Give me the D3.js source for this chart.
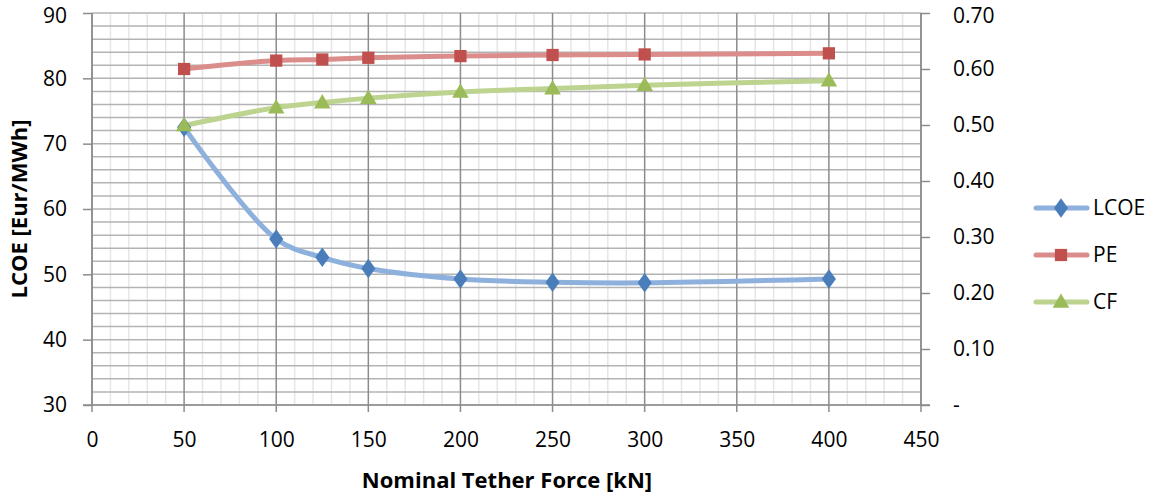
<!DOCTYPE html>
<html><head><meta charset="utf-8">
<script src="https://cdn.jsdelivr.net/npm/d3@7"></script>
<style>body{margin:0;background:#fff}svg{display:block}text{font-family:"Open Sans","Liberation Sans",sans-serif;fill:#000}</style>
</head><body><svg id="c" width="1149" height="495"></svg>
<script>
const force = [50,100,125,150,200,250,300,400];
const lcoe = [72.5,55.4,52.6,50.9,49.3,48.8,48.7,49.3];
const pe = [0.600,0.615,0.617,0.620,0.623,0.625,0.626,0.628];
const cf = [0.499,0.531,0.540,0.548,0.559,0.565,0.571,0.579];
const xTicks = [0,50,100,150,200,250,300,350,400,450];
const yLeftTicks = [30,40,50,60,70,80,90];
const yRightTicks = [0,0.1,0.2,0.3,0.4,0.5,0.6,0.7];
const seriesNames = ["LCOE","PE","CF"];

const svg = d3.select("#c");
const L=92,R=921,T=13,B=405;
const x = d3.scaleLinear().domain([0,450]).range([L,R]);
const yL = d3.scaleLinear().domain([30,90]).range([B,T]);
const yR = d3.scaleLinear().domain([0,0.7]).range([B,T]);

const g = svg.append("g");
d3.range(0,451,10).filter(v=>v%50!==0).forEach(v=>{
  g.append("line").attr("x1",x(v)).attr("x2",x(v)).attr("y1",T).attr("y2",B).attr("stroke","#e6e6e6").attr("stroke-width",1.5);
});
d3.range(30,91,2).forEach(v=>{
  g.append("line").attr("x1",L).attr("x2",R).attr("y1",yL(v)).attr("y2",yL(v)).attr("stroke","#b3b3b3").attr("stroke-width",1.5);
});
xTicks.forEach(v=>{
  g.append("line").attr("x1",x(v)).attr("x2",x(v)).attr("y1",T).attr("y2",B+7).attr("stroke","#8c8c8c").attr("stroke-width",1.5);
});
g.append("line").attr("x1",L).attr("x2",L).attr("y1",T).attr("y2",B).attr("stroke","#8c8c8c").attr("stroke-width",1.5);
g.append("line").attr("x1",R).attr("x2",R).attr("y1",T).attr("y2",B).attr("stroke","#8c8c8c").attr("stroke-width",1.5);
g.append("line").attr("x1",L-9).attr("x2",R+9).attr("y1",B).attr("y2",B).attr("stroke","#8c8c8c").attr("stroke-width",1.5);

const fs = 21;
const ax = svg.append("g").attr("transform",`translate(0,${B})`).call(d3.axisBottom(x).tickValues(xTicks).tickSize(0).tickPadding(27));
const ayl = svg.append("g").attr("transform",`translate(${L},0)`).call(d3.axisLeft(yL).tickValues(yLeftTicks).tickSize(9).tickPadding(16));
const ayr = svg.append("g").attr("transform",`translate(${R},0)`).call(d3.axisRight(yR).tickValues(yRightTicks).tickSize(9).tickPadding(23).tickFormat(v=>v===0?"-":d3.format(".2f")(v)));
[ax,ayl,ayr].forEach(a=>{
  a.select(".domain").remove();
  a.selectAll(".tick line").attr("stroke","#8c8c8c").attr("stroke-width",1.5);
  a.selectAll("text").style("font-size",fs+"px").style("font-family",'"Open Sans","Liberation Sans",sans-serif').attr("fill","#000");
});
ax.selectAll("text").attr("dy","0").attr("y",447-B);
// keep the topmost labels inside the picture
ayl.selectAll(".tick text").filter(d=>d===90).attr("y",3);
ayr.selectAll(".tick text").filter(d=>d===0.7).attr("y",3);

svg.append("text").attr("x",507).attr("y",488).attr("text-anchor","middle").style("font-size","22px").style("font-weight","bold").text("Nominal Tether Force [kN]");
svg.append("text").attr("transform",`translate(27,${(T+B)/2}) rotate(-90)`).attr("text-anchor","middle").style("font-size","22px").style("font-weight","bold").text("LCOE [Eur/MWh]");

const curve = d3.curveCatmullRom.alpha(0.5);
const series = [
  {name:"LCOE",vals:lcoe,y:yL,line:"#8eb0dc",mk:"#4a7ebb",sym:d3.symbolDiamond,size:110},
  {name:"PE",vals:pe,y:yR,line:"#db8d8b",mk:"#c0504d",sym:d3.symbolSquare,size:150},
  {name:"CF",vals:cf,y:yR,line:"#bcd48f",mk:"#9bbb59",sym:d3.symbolTriangle,size:120}
];
series.forEach(s=>{
  const pts = force.map((f,i)=>[x(f),s.y(s.vals[i])]);
  svg.append("path").attr("d",d3.line().curve(curve)(pts)).attr("fill","none").attr("stroke",s.line).attr("stroke-width",5).attr("stroke-linecap","round");
});
series.forEach(s=>{
  force.forEach((f,i)=>{
    svg.append("path").attr("d",d3.symbol().type(s.sym).size(s.size)())
      .attr("transform",`translate(${x(f)},${s.y(s.vals[i])+(s.sym===d3.symbolTriangle?1:0)})`+(s.sym===d3.symbolDiamond?" scale(1.25,1)":""))
      .attr("fill",s.mk);
  });
});
const ly = [208,255,302];
series.forEach((s,i)=>{
  const lg = svg.append("g").attr("transform",`translate(0,${ly[i]})`);
  lg.append("line").attr("x1",1036).attr("x2",1087).attr("y1",0).attr("y2",0).attr("stroke",s.line).attr("stroke-width",5).attr("stroke-linecap","round");
  lg.append("path").attr("d",d3.symbol().type(s.sym).size(s.size)()).attr("transform",`translate(1061,${s.sym===d3.symbolTriangle?1:0})`+(s.sym===d3.symbolDiamond?" scale(1.25,1)":"")).attr("fill",s.mk);
  lg.append("text").attr("x",1093).attr("y",0).attr("dy","0.35em").style("font-size","21px").text(seriesNames[i]);
});
</script></body></html>
